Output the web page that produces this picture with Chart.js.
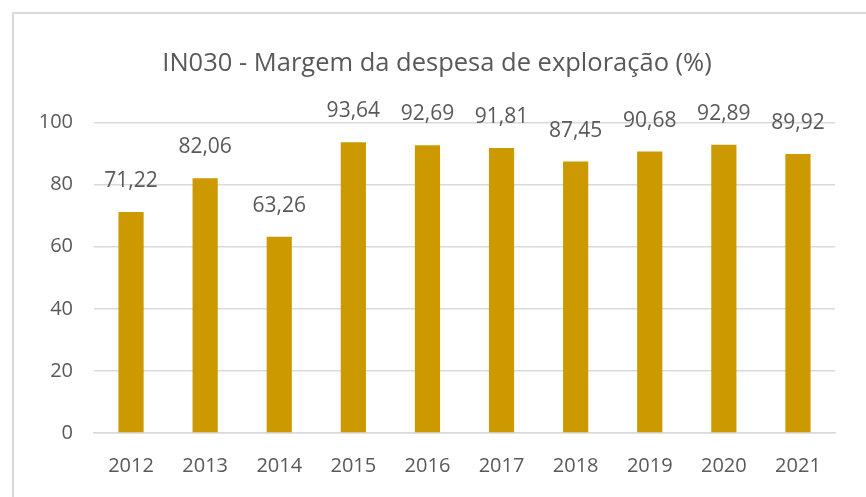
<!DOCTYPE html>
<html>
<head>
<meta charset="utf-8">
<script src="https://cdn.jsdelivr.net/npm/chart.js@4"></script>
<style>
  html, body { margin: 0; padding: 0; background: #fff; }
  #wrap { position: relative; width: 866px; height: 497px; overflow: hidden; }
  #frame { position: absolute; left: 12px; top: 12px; width: 900px; height: 600px;
           border-left: 2px solid #d9d9d9; border-top: 2px solid #d9d9d9; }
  canvas { position: absolute; left: 0; top: 0; }
</style>
</head>
<body>
<div id="wrap">
  <div id="frame"></div>
  <canvas id="chBar" width="866" height="497"></canvas>
</div>
<script>
// chart data
var years = ["2012", "2013", "2014", "2015", "2016", "2017", "2018", "2019", "2020", "2021"];
var margem = [71.22, 82.06, 63.26, 93.64, 92.69, 91.81, 87.45, 90.68, 92.89, 89.92];
var yTicks = [0, 20, 40, 60, 80, 100];

var textColor = "#595959";
var fontName = "'Open Sans', sans-serif";

// value labels above each bar (comma decimals)
var barLabels = {
  id: "barLabels",
  afterDatasetsDraw: function (chart) {
    var ctx = chart.ctx;
    var meta = chart.getDatasetMeta(0);
    ctx.save();
    ctx.font = "21px " + fontName;
    ctx.fillStyle = textColor;
    ctx.textAlign = "center";
    ctx.textBaseline = "middle";
    meta.data.forEach(function (bar, i) {
      var txt = margem[i].toFixed(2).replace(".", ",");
      ctx.fillText(txt, bar.x, bar.y - 31);
    });
    ctx.restore();
  }
};

var chBar = document.getElementById("chBar");
new Chart(chBar, {
  type: "bar",
  data: {
    labels: years,
    datasets: [
      {
        data: margem,
        backgroundColor: "#cc9900",
        borderWidth: 0,
        categoryPercentage: 1,
        barPercentage: 0.34
      }
    ]
  },
  options: {
    responsive: false,
    animation: false,
    layout: { padding: { left: 39, right: 31, top: 12, bottom: 0 } },
    plugins: {
      legend: { display: false },
      tooltip: { enabled: false },
      title: {
        display: true,
        text: "IN030 - Margem da despesa de exploração (%)",
        color: textColor,
        font: { family: fontName, size: 25.5, weight: "normal" },
        padding: { top: 36, bottom: 44 }
      }
    },
    scales: {
      x: {
        grid: { display: false },
        border: { display: true, color: "#d9d9d9", width: 1.5 },
        ticks: { color: textColor, font: { family: fontName, size: 20 }, padding: 13 },
        afterFit: function (scale) { scale.height = 64; }
      },
      y: {
        min: 0,
        max: 100,
        afterBuildTicks: function (scale) {
          scale.ticks = yTicks.map(function (v) { return { value: v }; });
        },
        grid: { color: "#d9d9d9", lineWidth: 1.5, drawTicks: false },
        border: { display: false },
        ticks: { color: textColor, font: { family: fontName, size: 20 }, padding: 21 },
        afterFit: function (scale) { scale.width = 55; }
      }
    }
  },
  plugins: [barLabels]
});
</script>
</body>
</html>
